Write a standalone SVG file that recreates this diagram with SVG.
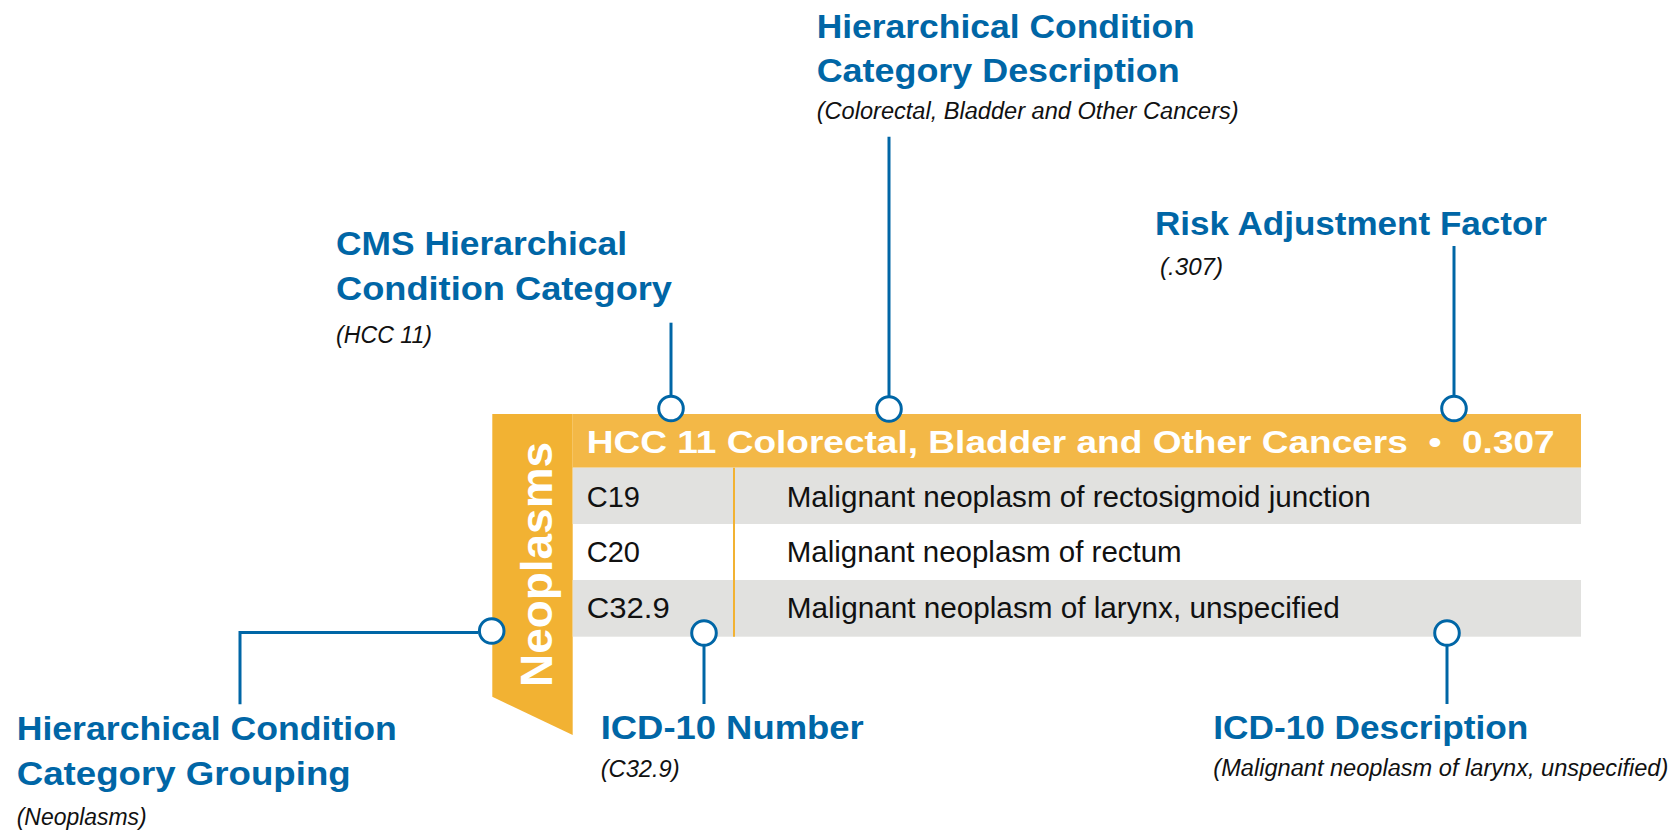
<svg xmlns="http://www.w3.org/2000/svg" width="1677" height="830" viewBox="0 0 1677 830">
<style>
.title{font-family:"Liberation Sans",Arial,sans-serif;font-weight:bold;font-size:33px;fill:#0066A6}
.sub{font-family:"Liberation Sans",Arial,sans-serif;font-style:italic;font-size:23px;fill:#111}
.row{font-family:"Liberation Sans",Arial,sans-serif;font-size:29px;fill:#111}
.hdr{font-family:"Liberation Sans",Arial,sans-serif;font-weight:bold;font-size:32px;fill:#fff}
.conn{stroke:#0066A6;stroke-width:3;fill:none}
.dot{stroke:#0066A6;stroke-width:3;fill:#fff}
</style>
<rect width="1677" height="830" fill="#fff"/>
<g id="table">
  <polygon points="492.3,414 572.7,414 572.7,735 492.3,696.7" fill="#F2B233"/>
  <text class="hdr" style="font-size:44px" transform="translate(552,687) rotate(-90)" textLength="245" lengthAdjust="spacingAndGlyphs">Neoplasms</text>
  <rect x="572.7" y="414" width="1008.3" height="53.7" fill="#F3B847"/>
  <text class="hdr" x="586.7" y="453.3" textLength="968" lengthAdjust="spacingAndGlyphs">HCC 11 Colorectal, Bladder and Other Cancers&#160;&#160;•&#160;&#160;0.307</text>
  <rect x="572.7" y="467.7" width="1008.3" height="56.3" fill="#E1E1DF"/>
  <rect x="572.7" y="580" width="1008.3" height="56.7" fill="#E1E1DF"/>
  <line x1="734" y1="467.7" x2="734" y2="636.7" stroke="#F2B233" stroke-width="2"/>
  <text class="row" x="586.7" y="506.7">C19</text>
  <text class="row" x="586.7" y="562.3">C20</text>
  <text class="row" x="586.7" y="618.3" textLength="83" lengthAdjust="spacingAndGlyphs">C32.9</text>
  <text class="row" x="786.7" y="506.7" textLength="584" lengthAdjust="spacingAndGlyphs">Malignant neoplasm of rectosigmoid junction</text>
  <text class="row" x="786.7" y="562.3" textLength="395" lengthAdjust="spacingAndGlyphs">Malignant neoplasm of rectum</text>
  <text class="row" x="786.7" y="618.3" textLength="553" lengthAdjust="spacingAndGlyphs">Malignant neoplasm of larynx, unspecified</text>
</g>
<g id="connectors">
  <line class="conn" x1="671" y1="322.7" x2="671" y2="396"/>
  <line class="conn" x1="889" y1="136.7" x2="889" y2="396"/>
  <line class="conn" x1="1454" y1="246" x2="1454" y2="396"/>
  <polyline class="conn" points="478,632.5 240,632.5 240,704.3"/>
  <line class="conn" x1="704" y1="646" x2="704" y2="704"/>
  <line class="conn" x1="1447" y1="646" x2="1447" y2="704"/>
  <circle class="dot" cx="671" cy="408.5" r="12.3"/>
  <circle class="dot" cx="889" cy="409" r="12.3"/>
  <circle class="dot" cx="1454" cy="408.5" r="12.3"/>
  <circle class="dot" cx="491.7" cy="631" r="12.3"/>
  <circle class="dot" cx="704" cy="633" r="12.3"/>
  <circle class="dot" cx="1447" cy="633" r="12.3"/>
</g>
<g id="cms-hcc">
  <text class="title" x="336" y="255" textLength="291" lengthAdjust="spacingAndGlyphs">CMS Hierarchical</text>
  <text class="title" x="336" y="300" textLength="336" lengthAdjust="spacingAndGlyphs">Condition Category</text>
  <text class="sub" x="336" y="343" textLength="96" lengthAdjust="spacingAndGlyphs">(HCC 11)</text>
</g>
<g id="hcc-description">
  <text class="title" x="816.7" y="38.3" textLength="378" lengthAdjust="spacingAndGlyphs">Hierarchical Condition</text>
  <text class="title" x="816.7" y="81.7" textLength="363" lengthAdjust="spacingAndGlyphs">Category Description</text>
  <text class="sub" x="816.7" y="119" textLength="422" lengthAdjust="spacingAndGlyphs">(Colorectal, Bladder and Other Cancers)</text>
</g>
<g id="risk-factor">
  <text class="title" x="1155" y="235" textLength="392" lengthAdjust="spacingAndGlyphs">Risk Adjustment Factor</text>
  <text class="sub" x="1160" y="275" textLength="63" lengthAdjust="spacingAndGlyphs">(.307)</text>
</g>
<g id="hcc-grouping">
  <text class="title" x="16.7" y="740" textLength="380" lengthAdjust="spacingAndGlyphs">Hierarchical Condition</text>
  <text class="title" x="16.7" y="785" textLength="334" lengthAdjust="spacingAndGlyphs">Category Grouping</text>
  <text class="sub" x="16.7" y="825" textLength="130" lengthAdjust="spacingAndGlyphs">(Neoplasms)</text>
</g>
<g id="icd-number">
  <text class="title" x="600.7" y="739.3" textLength="263" lengthAdjust="spacingAndGlyphs">ICD-10 Number</text>
  <text class="sub" x="600.7" y="776.7" textLength="79" lengthAdjust="spacingAndGlyphs">(C32.9)</text>
</g>
<g id="icd-description">
  <text class="title" x="1213.3" y="739" textLength="315" lengthAdjust="spacingAndGlyphs">ICD-10 Description</text>
  <text class="sub" x="1213.3" y="775.7" textLength="455" lengthAdjust="spacingAndGlyphs">(Malignant neoplasm of larynx, unspecified)</text>
</g>
</svg>
